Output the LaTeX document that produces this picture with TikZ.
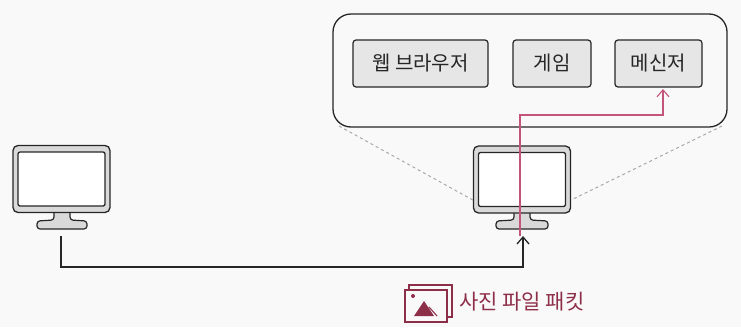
\documentclass[tikz,border=0pt]{standalone}
\usepackage{fontspec}
\newfontfamily\krfont{Noto Sans CJK KR}
\usetikzlibrary{arrows.meta,calc}
\definecolor{bgpaper}{HTML}{F9F9F9}
\definecolor{ink}{HTML}{262626}
\definecolor{btnfill}{HTML}{E6E6E6}
\definecolor{framefill}{HTML}{D9D9D9}
\definecolor{packet}{HTML}{C4557A}
\definecolor{packetdark}{HTML}{8E2F4A}
\definecolor{guide}{HTML}{A8A8A8}
\tikzset{
  appbox/.style={draw=ink, line width=1.2pt, fill=btnfill, rounded corners=3pt,
    minimum height=47pt, inner sep=0pt, font=\krfont\fontsize{20}{20}\selectfont, text=ink},
  groupbox/.style={draw=ink, line width=1.3pt, fill=bgpaper, rounded corners=18pt,
    minimum width=394pt, minimum height=113pt, inner sep=0pt},
  monframe/.style={draw=ink, line width=1.3pt, fill=framefill, rounded corners=5pt,
    minimum width=97pt, minimum height=67pt, inner sep=0pt},
  monscreen/.style={draw=ink, line width=1.3pt, fill=white, rounded corners=2pt,
    minimum width=87pt, minimum height=54pt, inner sep=0pt},
  monstand/.style={draw=ink, line width=1.2pt, fill=framefill, rounded corners=3pt},
  wire/.style={draw=ink, line width=1.3pt, -{Straight Barb[length=7pt,width=12pt]}},
  packetwire/.style={draw=packet, line width=1.1pt, -{Straight Barb[length=7pt,width=12pt]}},
  zoomguide/.style={draw=guide, line width=1pt, dashed, dash pattern=on 3pt off 3pt},
}
\begin{document}
\begin{tikzpicture}[x=1pt,y=-1pt]
  \fill[bgpaper] (0,0) rectangle (741,327);
  \useasboundingbox (0,0) rectangle (741,327);

  % application group
  \node[groupbox] (apps) at (530,70.5) {};
  \node[appbox, minimum width=135pt] (web) at (420.5,63.5) {웹 브라우저};
  \node[appbox, minimum width=78pt] (game) at (552,63.5) {게임};
  \node[appbox, minimum width=87pt] (msg) at (658.5,63.5) {메신저};

  % zoom guides from the group to the receiving computer
  \coordinate (gl) at (339,126);
  \coordinate (gr) at (722,126);

  % sending computer: stand first, then frame and screen on top
  \path[monstand] (54,212.5) -- (54,220) -- (37,221) -- (37,229) -- (87,229) -- (87,221) -- (70,220) -- (70,212.5);
  \node[monframe] (pcA) at (61.5,179) {};
  \node[monscreen] (scrA) at (pcA.center) {};

  % receiving computer
  \path[monstand] (514,213) -- (514,220) -- (496,221) -- (496,229) -- (548,229) -- (548,221) -- (530,220) -- (530,213);
  \node[monframe] (pcB) at (522,179.5) {};
  \node[monscreen] (scrB) at (pcB.center) {};

  \draw[zoomguide] (gl) -- (pcB.west |- 0,200);
  \draw[zoomguide] (gr) -- (pcB.east |- 0,200);

  % network connection
  \coordinate (aout) at (61,236);
  \coordinate (bend) at (61,267);
  \coordinate (bin) at (523,236);
  \draw[wire] (aout) -- (bend) -| (bin);

  % packet path up to the messenger
  \coordinate (pstart) at (520,236);
  \coordinate (pend) at (663,89);
  \draw[packetwire] (pstart) |- ($(pend)+(0,26)$) -- (pend);

  % packet label with picture icon
  \begin{scope}[draw=packetdark, line width=1.1pt]
    \draw[fill=bgpaper] (409,285) rectangle (452,317);
    \draw[fill=bgpaper] (405,290) rectangle (447,322);
    \fill[packetdark] (413,296) circle (2pt);
    \fill[packetdark] (414,316) -- (424,301) -- (434,316) -- cycle;
    \draw (429,307) -- (437,316);
  \end{scope}
  \node[anchor=west, text=packetdark, font=\krfont\fontsize{21}{21}\selectfont, inner sep=0pt] (lbl) at (459,302) {사진 파일 패킷};
\end{tikzpicture}
\end{document}
